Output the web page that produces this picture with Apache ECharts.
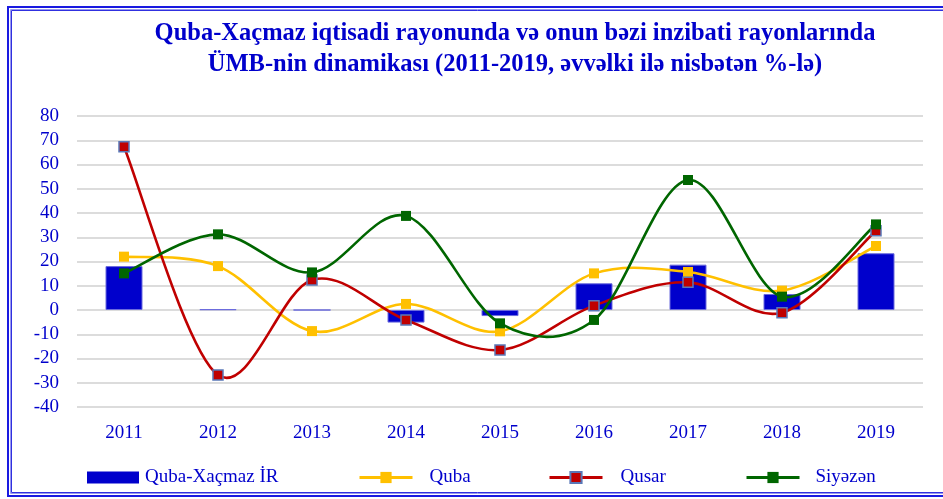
<!DOCTYPE html>
<html>
<head>
<meta charset="utf-8">
<script src="https://cdn.jsdelivr.net/npm/echarts@6/dist/echarts.min.js"></script>
<style>
html,body{margin:0;padding:0;background:#fff;}
#chart{width:943px;height:499px;}
</style>
</head>
<body>
<div id="chart"></div>
<script>
const years = ['2011','2012','2013','2014','2015','2016','2017','2018','2019'];
const qubaXacmazIR = [18.1, 0.3, 0, -5.2, -2.5, 11, 18.7, 6.6, 23.4];
const quba = [22, 18.1, -8.7, 2.5, -8.8, 15.1, 15.7, 8, 26.4];
const qusar = [67.3, -26.8, 12.4, -4.1, -16.5, 1.8, 11.4, -1.1, 32.7];
const siyazan = [15.1, 31.2, 15.5, 38.8, -5.5, -4.1, 53.6, 5.5, 35.3];
const seriesNames = ['Quba-Xaçmaz İR', 'Quba', 'Qusar', 'Siyəzən'];
const titleLines = ['Quba-Xaçmaz iqtisadi rayonunda və onun bəzi inzibati rayonlarında',
                    'ÜMB-nin dinamikası (2011-2019, əvvəlki ilə nisbətən %-lə)'];

const FONT = "'Liberation Serif', 'DejaVu Serif', serif";
const BLUE = '#0000cc';
const COLORS = {quba: '#ffc000', qusar: '#c00000', siy: '#006600'};
const chart = echarts.init(document.getElementById('chart'), null, {renderer:'canvas'});

function legendAt(left, name, w, h, pad, lineColor){
  const l = {
    show: true, data: [name], left: left, top: 468, padding: 0,
    itemWidth: w, itemHeight: h, itemGap: 0,
    textStyle: {color: BLUE, fontFamily: FONT, fontSize: 19, padding: [0,0,0,pad]}
  };
  if (lineColor) {
    l.lineStyle = {color: lineColor, width: 3, opacity: 1, type: 'solid'};
  } else {
    l.icon = 'rect';
    l.itemStyle = {borderWidth: 0};
  }
  return l;
}

// Excel-like smoothed curve (Catmull-Rom -> Bezier), positioned via the chart's own axes
function curveSeries(key, arr, color){
  return {
    name: '_curve_' + key, type: 'custom', silent: true, clip: false, z: 3,
    data: arr.map((v, i) => [i, v]),
    encode: {x: 0, y: 1},
    renderItem: function(params, api){
      if (params.dataIndex !== 0) return null;
      const p = arr.map((v, i) => api.coord([i, v]));
      let d = 'M' + p[0][0] + ' ' + p[0][1];
      for (let i = 0; i < p.length - 1; i++) {
        const p0 = p[i - 1] || p[i], p1 = p[i], p2 = p[i + 1], p3 = p[i + 2] || p[i + 1];
        const c1 = [p1[0] + (p2[0] - p0[0]) / 6, p1[1] + (p2[1] - p0[1]) / 6];
        const c2 = [p2[0] - (p3[0] - p1[0]) / 6, p2[1] - (p3[1] - p1[1]) / 6];
        d += ' C' + c1[0] + ' ' + c1[1] + ' ' + c2[0] + ' ' + c2[1] + ' ' + p2[0] + ' ' + p2[1];
      }
      return {type: 'path', shape: {pathData: d}, style: {fill: null, stroke: color, lineWidth: 2.6}};
    }
  };
}

function markerSeries(name, arr, color, border){
  return {
    name: name, type: 'line', data: arr, symbol: 'rect', symbolSize: 10, z: 5,
    lineStyle: {opacity: 0, width: 0},
    itemStyle: border ? {color: color, borderColor: '#5a78b8', borderWidth: 1.5} : {color: color}
  };
}

chart.setOption({
  animation: false,
  backgroundColor: '#fff',
  title: {
    text: titleLines.join('\n'),
    left: 510, top: 13, textAlign: 'center',
    textStyle: {color: BLUE, fontFamily: FONT, fontWeight: 'bold', fontSize: 24.5, lineHeight: 31}
  },
  graphic: [
    {type:'rect', shape:{x:8, y:7, width:1000, height:489}, style:{fill:'none', stroke:'#1a1ae0', lineWidth:2}},
    {type:'rect', shape:{x:10.5, y:9.5, width:1000, height:484}, style:{fill:'none', stroke:'#9999ee', lineWidth:1}},
    {type:'rect', shape:{x:11.5, y:10.5, width:1000, height:482}, style:{fill:'none', stroke:'#3030e0', lineWidth:1}}
  ],
  legend: [
    legendAt(87, seriesNames[0], 52, 12, 1, null),
    legendAt(358, seriesNames[1], 53, 14, 12, COLORS.quba),
    legendAt(548, seriesNames[2], 53, 14, 13, COLORS.qusar),
    legendAt(745, seriesNames[3], 53, 14, 11, COLORS.siy)
  ],
  grid: {left: 77, right: 20, top: 116, bottom: 92, containLabel: false},
  xAxis: {
    type: 'category', data: years,
    axisLine: {show: false}, axisTick: {show: false},
    axisLabel: {color: BLUE, fontFamily: FONT, fontSize: 19, margin: 17}
  },
  yAxis: {
    type: 'value', min: -40, max: 80, interval: 10,
    axisLine: {show: false}, axisTick: {show: false},
    axisLabel: {color: BLUE, fontFamily: FONT, fontSize: 19, margin: 18},
    splitLine: {lineStyle: {color: '#d0d0d0', width: 1.5}}
  },
  series: [
    {name: seriesNames[0], type: 'bar', data: qubaXacmazIR, barWidth: 37, z: 1,
     itemStyle: {color: '#0000cc', borderColor: '#6b6bdd', borderWidth: 1}},
    curveSeries('quba', quba, COLORS.quba),
    markerSeries(seriesNames[1], quba, COLORS.quba, false),
    curveSeries('qusar', qusar, COLORS.qusar),
    markerSeries(seriesNames[2], qusar, COLORS.qusar, true),
    curveSeries('siy', siyazan, COLORS.siy),
    markerSeries(seriesNames[3], siyazan, COLORS.siy, false)
  ]
});
</script>
</body>
</html>
